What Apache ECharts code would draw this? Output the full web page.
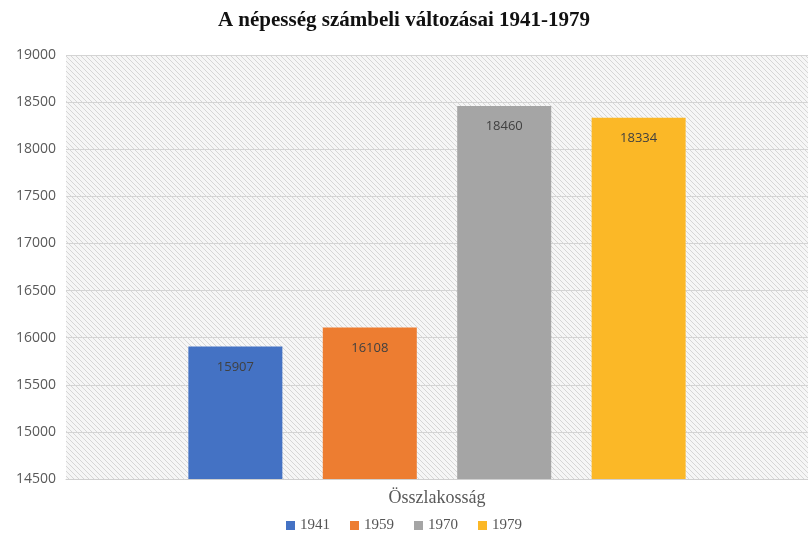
<!DOCTYPE html>
<html><head><meta charset="utf-8">
<script src="https://cdn.jsdelivr.net/npm/echarts@6/dist/echarts.min.js"></script>
<style>html,body{margin:0;padding:0;background:#fff}#c{width:808px;height:545px}</style>
</head><body><div id="c"></div>
<script>
const categories = ['Összlakosság'];
const seriesNames = ['1941', '1959', '1970', '1979'];
const values1941 = [15907];
const values1959 = [16108];
const values1970 = [18460];
const values1979 = [18334];
const colors = ['#4472C4', '#ED7D31', '#A5A5A5', '#FBB827'];

const pc = document.createElement('canvas');
pc.width = 5; pc.height = 5;
const g = pc.getContext('2d');
g.fillStyle = '#f6f6f6'; g.fillRect(0,0,5,5);
g.strokeStyle = '#d6d6d6'; g.lineWidth = 1;
g.beginPath(); g.moveTo(-1,-1); g.lineTo(6,6); g.moveTo(-1,4); g.lineTo(1,6); g.moveTo(4,-1); g.lineTo(6,1); g.stroke();

const data = [values1941, values1959, values1970, values1979];
const chart = echarts.init(document.getElementById('c'));
chart.setOption({
  animation: false,
  title: { text: 'A népesség számbeli változásai 1941-1979', left: 'center', top: 5,
    textStyle: { fontFamily: 'Liberation Serif', fontWeight: 'bold', fontSize: 21, color: '#111' } },
  legend: { bottom: 7, left: 'center', itemWidth: 9, itemHeight: 9, itemGap: 20, icon: 'rect',
    textStyle: { fontFamily: 'Liberation Serif', fontSize: 15, color: '#555' }, data: seriesNames },
  grid: { left: 66, width: 750, top: 55, bottom: 66, show: true, backgroundColor: { image: pc, repeat: 'repeat' }, borderWidth: 0 },
  xAxis: { type: 'category', data: categories,
    axisLine: { lineStyle: { color: '#d0d0d0' } }, axisTick: { show: false },
    axisLabel: { fontFamily: 'Liberation Serif', fontSize: 18, color: '#595959', margin: 10 } },
  yAxis: { type: 'value', min: 14500, max: 19000, interval: 500,
    axisLine: { show: false }, axisTick: { show: false },
    splitLine: { lineStyle: { color: '#d4d4d4' } },
    axisLabel: { fontFamily: 'Open Sans', fontSize: 14, color: '#595959', margin: 10, formatter: v => String(v) } },
  series: seriesNames.map((n, i) => ({
    name: n, type: 'bar', data: data[i], barWidth: 94, barGap: '43%',
    itemStyle: { color: colors[i] },
    label: { show: true, position: 'insideTop', distance: 14, fontFamily: 'Open Sans', fontSize: 13, color: '#404040' }
  }))
});
</script></body></html>
